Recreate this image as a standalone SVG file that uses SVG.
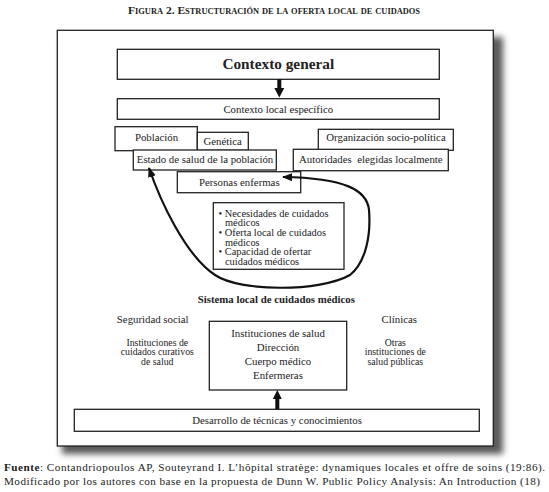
<svg xmlns="http://www.w3.org/2000/svg" width="549" height="492" viewBox="0 0 549 492">
<style>
text{font-family:"Liberation Serif","DejaVu Serif","Times New Roman",serif;fill:#222}
.t{font-size:10.8px;text-anchor:middle}
.s{font-size:9.8px}
.b{font-weight:bold}
.box{fill:#fff;stroke:#222;stroke-width:1.3}
.conn{fill:none;stroke:#111;stroke-width:2.2}
.lft{text-anchor:start}
</style>
<defs>
<filter id="sh" x="-10%" y="-10%" width="120%" height="120%"><feGaussianBlur stdDeviation="3.2"/></filter>
<marker id="ah" markerUnits="userSpaceOnUse" markerWidth="10" markerHeight="10" viewBox="0 0 10 10" refX="9" refY="5" orient="auto-start-reverse"><path d="M0,1 L10,5 L0,9 Z" fill="#111"/></marker>
</defs>
<rect width="549" height="492" fill="#fff"/>
<text class="t b" x="274" y="14" style="font-size:11px;font-variant:small-caps" textLength="292" lengthAdjust="spacingAndGlyphs">Figura 2. Estructuración de la oferta local de cuidados</text>
<rect x="62" y="37" width="441" height="417" fill="#5a5a5a" filter="url(#sh)"/>
<rect x="57.3" y="30.3" width="436" height="415.7" class="box"/>

<g id="contexto-general"><rect class="box" x="117.3" y="49.3" width="322" height="30"/><text class="t b" x="278.3" y="68.5" style="font-size:15.3px">Contexto general</text></g>
<g id="contexto-local"><rect class="box" x="117.3" y="98.7" width="322" height="20.6"/><text class="t" x="278.3" y="113.3">Contexto local específico</text></g>
<g id="poblacion"><rect class="box" x="115" y="126.7" width="82.3" height="24"/><text class="t" x="156.5" y="140.7">Población</text></g>
<g id="genetica"><rect class="box" x="197.3" y="132.3" width="51" height="18"/><text class="t" x="222.7" y="144.5">Genética</text></g>
<g id="estado-salud"><rect class="box" x="133.3" y="150" width="143" height="20"/><text class="t" x="205" y="163">Estado de salud de la población</text></g>
<g id="organizacion"><rect class="box" x="318.3" y="129.3" width="135" height="21"/><text class="t" x="386" y="140.5">Organización socio-política</text></g>
<g id="autoridades"><rect class="box" x="293.3" y="149.3" width="155" height="21.4"/><text class="t" x="370.8" y="163" xml:space="preserve" style="white-space:pre">Autoridades  elegidas localmente</text></g>
<g id="personas-enfermas"><rect class="box" x="177.3" y="171.7" width="123.4" height="21"/><text class="t" x="239.3" y="185.7">Personas enfermas</text></g>
<g id="necesidades"><rect class="box" x="213.3" y="202.7" width="130.7" height="66.6"/>
<text class="t lft" style="font-size:10.4px"><tspan x="218.5" y="217">• Necesidades de cuidados</tspan><tspan x="225" y="226.3">médicos</tspan><tspan x="218.5" y="236.3">• Oferta local de cuidados</tspan><tspan x="225" y="245.6">médicos</tspan><tspan x="218.5" y="255.3">• Capacidad de ofertar</tspan><tspan x="225" y="264.6">cuidados médicos</tspan></text>
</g>
<g id="sistema-local">
<text class="t b" x="276.3" y="302.7">Sistema local de cuidados médicos</text>
<text class="t" x="152.7" y="323.3">Seguridad social</text>
<text class="t" x="399.3" y="323.3">Clínicas</text>
<text class="t s"><tspan x="157.3" y="346">Instituciones de</tspan><tspan x="157.3" y="355.3">cuidados curativos</tspan><tspan x="157.3" y="364.6">de salud</tspan></text>
<text class="t s"><tspan x="395.3" y="346">Otras</tspan><tspan x="395.3" y="355.3">instituciones de</tspan><tspan x="395.3" y="364.6">salud públicas</tspan></text>
</g>
<g id="instituciones"><rect class="box" x="209.3" y="321.3" width="137.4" height="68.7"/>
<text class="t" x="278" y="336.7">Instituciones de salud</text>
<text class="t" x="278" y="351">Dirección</text>
<text class="t" x="278" y="365">Cuerpo médico</text>
<text class="t" x="278" y="379.3">Enfermeras</text>
</g>
<g id="desarrollo"><rect class="box" x="74.3" y="409.3" width="405" height="22"/><text class="t" x="277" y="423.5">Desarrollo de técnicas y conocimientos</text></g>

<g id="connectors">
<line x1="279.3" y1="79.3" x2="279.3" y2="89" stroke="#111" stroke-width="4"/>
<path d="M274.3,88 L284.3,88 L279.3,97.5 Z" fill="#111"/>
<line x1="277.3" y1="409.3" x2="277.3" y2="398" stroke="#111" stroke-width="4"/>
<path d="M272.8,399 L281.8,399 L277.3,390 Z" fill="#111"/>
<path class="conn" marker-start="url(#ah)" marker-end="url(#ah)" d="M149,168 C160,200 185,255 215,275 C240,292 320,292 350,275 C366,262 371,235 369,210 C367,190 345,178 283,177"/>
</g>

<text class="lft" x="4" y="470.5" style="font-size:11.2px" textLength="541" lengthAdjust="spacing"><tspan font-weight="bold">Fuente</tspan>: Contandriopoulos AP, Souteyrand I. L’hôpital stratège: dynamiques locales et offre de soins (19:86).</text>
<text class="lft" x="4" y="485" style="font-size:11.2px" textLength="536" lengthAdjust="spacing">Modificado por los autores con base en la propuesta de Dunn W. Public Policy Analysis: An Introduction (18)</text>
</svg>
